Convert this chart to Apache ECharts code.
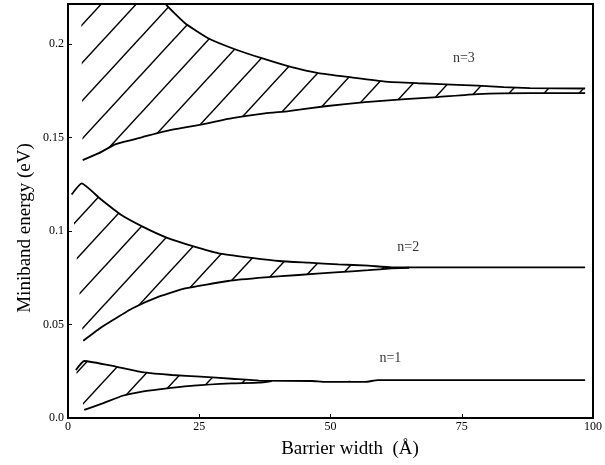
<!DOCTYPE html>
<html><head><meta charset="utf-8">
<script src="https://cdn.jsdelivr.net/npm/echarts@6/dist/echarts.min.js"></script>
<style>html,body{margin:0;padding:0;background:#fff}#c{width:605px;height:465px}</style>
</head><body><div id="c"></div>
<script>
const xTicks = [0, 25, 50, 75, 100];
const yTicks = [0, 0.05, 0.1, 0.15, 0.2];
const xTitle = 'Barrier width  (Å)';
const yTitle = 'Miniband energy (eV)';

const n3Upper = [[2.5,0.32],[10,0.262],[15,0.236],[18.6,0.2214],[22.3,0.2112],[26.7,0.2032],[31.8,0.1973],[36.9,0.1925],[42.6,0.1877],[47.7,0.1845],[54,0.1822],[60.4,0.1800],[66.7,0.1791],[73,0.1784],[78,0.1778],[83,0.1770],[88,0.1765],[98.5,0.1763]];
const n3Lower = [[2.8,0.138],[5.9,0.1417],[9.1,0.1465],[14.2,0.1503],[18.6,0.1535],[24.8,0.1567],[31.3,0.1604],[37.5,0.163],[42,0.1642],[49,0.1668],[56.6,0.169],[64.2,0.1706],[70.4,0.1717],[78,0.1733],[88,0.1738],[98.5,0.1738]];
const n2Upper = [[0.7,0.1196],[2.6,0.1255],[6.25,0.117],[10,0.1089],[14.5,0.102],[18.9,0.0964],[23.6,0.0921],[28.7,0.0881],[35,0.0857],[40.2,0.084],[45.8,0.0831],[51.5,0.0822],[57.2,0.0815],[61.6,0.0806],[98.5,0.0806]];
const n2Lower = [[2.9,0.0413],[6.1,0.048],[8.8,0.0528],[12.3,0.0587],[17.3,0.0649],[22.3,0.0693],[30.5,0.0733],[37.5,0.0752],[43.9,0.0765],[50.9,0.0779],[57.2,0.0791],[61.6,0.0800],[65,0.0804]];
const n1Upper = [[1.5,0.0257],[3.1,0.0305],[9.1,0.0275],[14.5,0.0244],[19.8,0.023],[25.2,0.0221],[31.2,0.021],[36.4,0.0200],[46.4,0.0198],[49,0.0193],[56.6,0.0193],[59,0.0203],[98.5,0.0203]];
const n1Lower = [[3.1,0.0043],[6.6,0.0078],[10.4,0.0119],[14.1,0.0141],[17.3,0.0153],[23.9,0.0173],[31.2,0.0185],[36.4,0.0189],[38.8,0.0198]];
const bandNames = ['n=3', 'n=2', 'n=1'];
const bandLabelX = [75.4, 64.8, 61.4];
const bandLabelY = [0.1925, 0.0914, 0.0321];

const FONT = '"Liberation Serif", "DejaVu Serif", serif';

function makeHatch() {
  const w = 35, h = 38;
  const c = document.createElement('canvas');
  c.width = w; c.height = h;
  const g = c.getContext('2d');
  g.strokeStyle = '#000'; g.lineWidth = 1.5;
  for (let k = 0; k < 3; k++) {
    g.beginPath(); g.moveTo((k + 1) * w, -h); g.lineTo((k - 2) * w, 2 * h); g.stroke();
  }
  return c;
}
const hatch = makeHatch();

function bandSeries(upper, lower) {
  return {
    type: 'custom', coordinateSystem: 'cartesian2d', data: [[50, 0.1]], silent: true, z: 1,
    renderItem: function (params, api) {
      const cs = params.coordSys;
      const pts = upper.map(p => api.coord(p)).concat(lower.slice().reverse().map(p => api.coord(p)));
      pts.forEach(p => { p[1] = Math.max(p[1], cs.y); });
      return { type: 'polygon', shape: { points: pts }, style: { fill: { image: hatch, repeat: 'repeat' }, stroke: null } };
    }
  };
}
function curve(data) {
  return { type: 'line', data: data, showSymbol: false, smooth: 0.15, z: 3, silent: true,
    lineStyle: { color: '#000', width: 1.8 } };
}

const chart = echarts.init(document.getElementById('c'));
chart.setOption({
  animation: false,
  backgroundColor: '#fff',
  grid: { left: 68, right: 9, top: 4, bottom: 47, show: true, borderColor: '#000', borderWidth: 2 },
  xAxis: {
    type: 'value', min: xTicks[0], max: xTicks[xTicks.length - 1], interval: 25,
    axisLine: { show: true, lineStyle: { color: '#000', width: 2 } },
    axisTick: { show: true, inside: true, length: 4, lineStyle: { color: '#000' } },
    splitLine: { show: false },
    axisLabel: { color: '#000', fontFamily: FONT, fontSize: 12, margin: 3 }
  },
  yAxis: {
    type: 'value', min: yTicks[0], max: 0.2215, interval: 0.05,
    axisLine: { show: true, lineStyle: { color: '#000', width: 2 } },
    axisTick: { show: true, inside: true, length: 4, lineStyle: { color: '#000' } },
    splitLine: { show: false },
    axisLabel: { color: '#000', fontFamily: FONT, fontSize: 12, margin: 4, showMaxLabel: false,
      formatter: v => v === 0 ? '0.0' : String(parseFloat(v.toFixed(3))) }
  },
  graphic: [
    { type: 'text', x: 350, y: 449, style: { text: xTitle, font: '19px ' + FONT, fill: '#000', textAlign: 'center', textVerticalAlign: 'middle' } },
    { type: 'text', x: 25, y: 228, rotation: Math.PI / 2, style: { text: yTitle, font: '19px ' + FONT, fill: '#000', textAlign: 'center', textVerticalAlign: 'middle' } }
  ],
  series: [
    bandSeries(n3Upper, n3Lower), bandSeries(n2Upper, n2Lower), bandSeries(n1Upper, n1Lower),
    curve(n3Upper), curve(n3Lower), curve(n2Upper), curve(n2Lower), curve(n1Upper), curve(n1Lower),
    { type: 'scatter', symbolSize: 0, silent: true, z: 4,
      data: bandNames.map((n, i) => ({ name: n, value: [bandLabelX[i], bandLabelY[i]] })),
      label: { show: true, position: 'inside', formatter: '{b}', color: '#000', fontFamily: FONT, fontSize: 14 } }
  ]
});
</script></body></html>
